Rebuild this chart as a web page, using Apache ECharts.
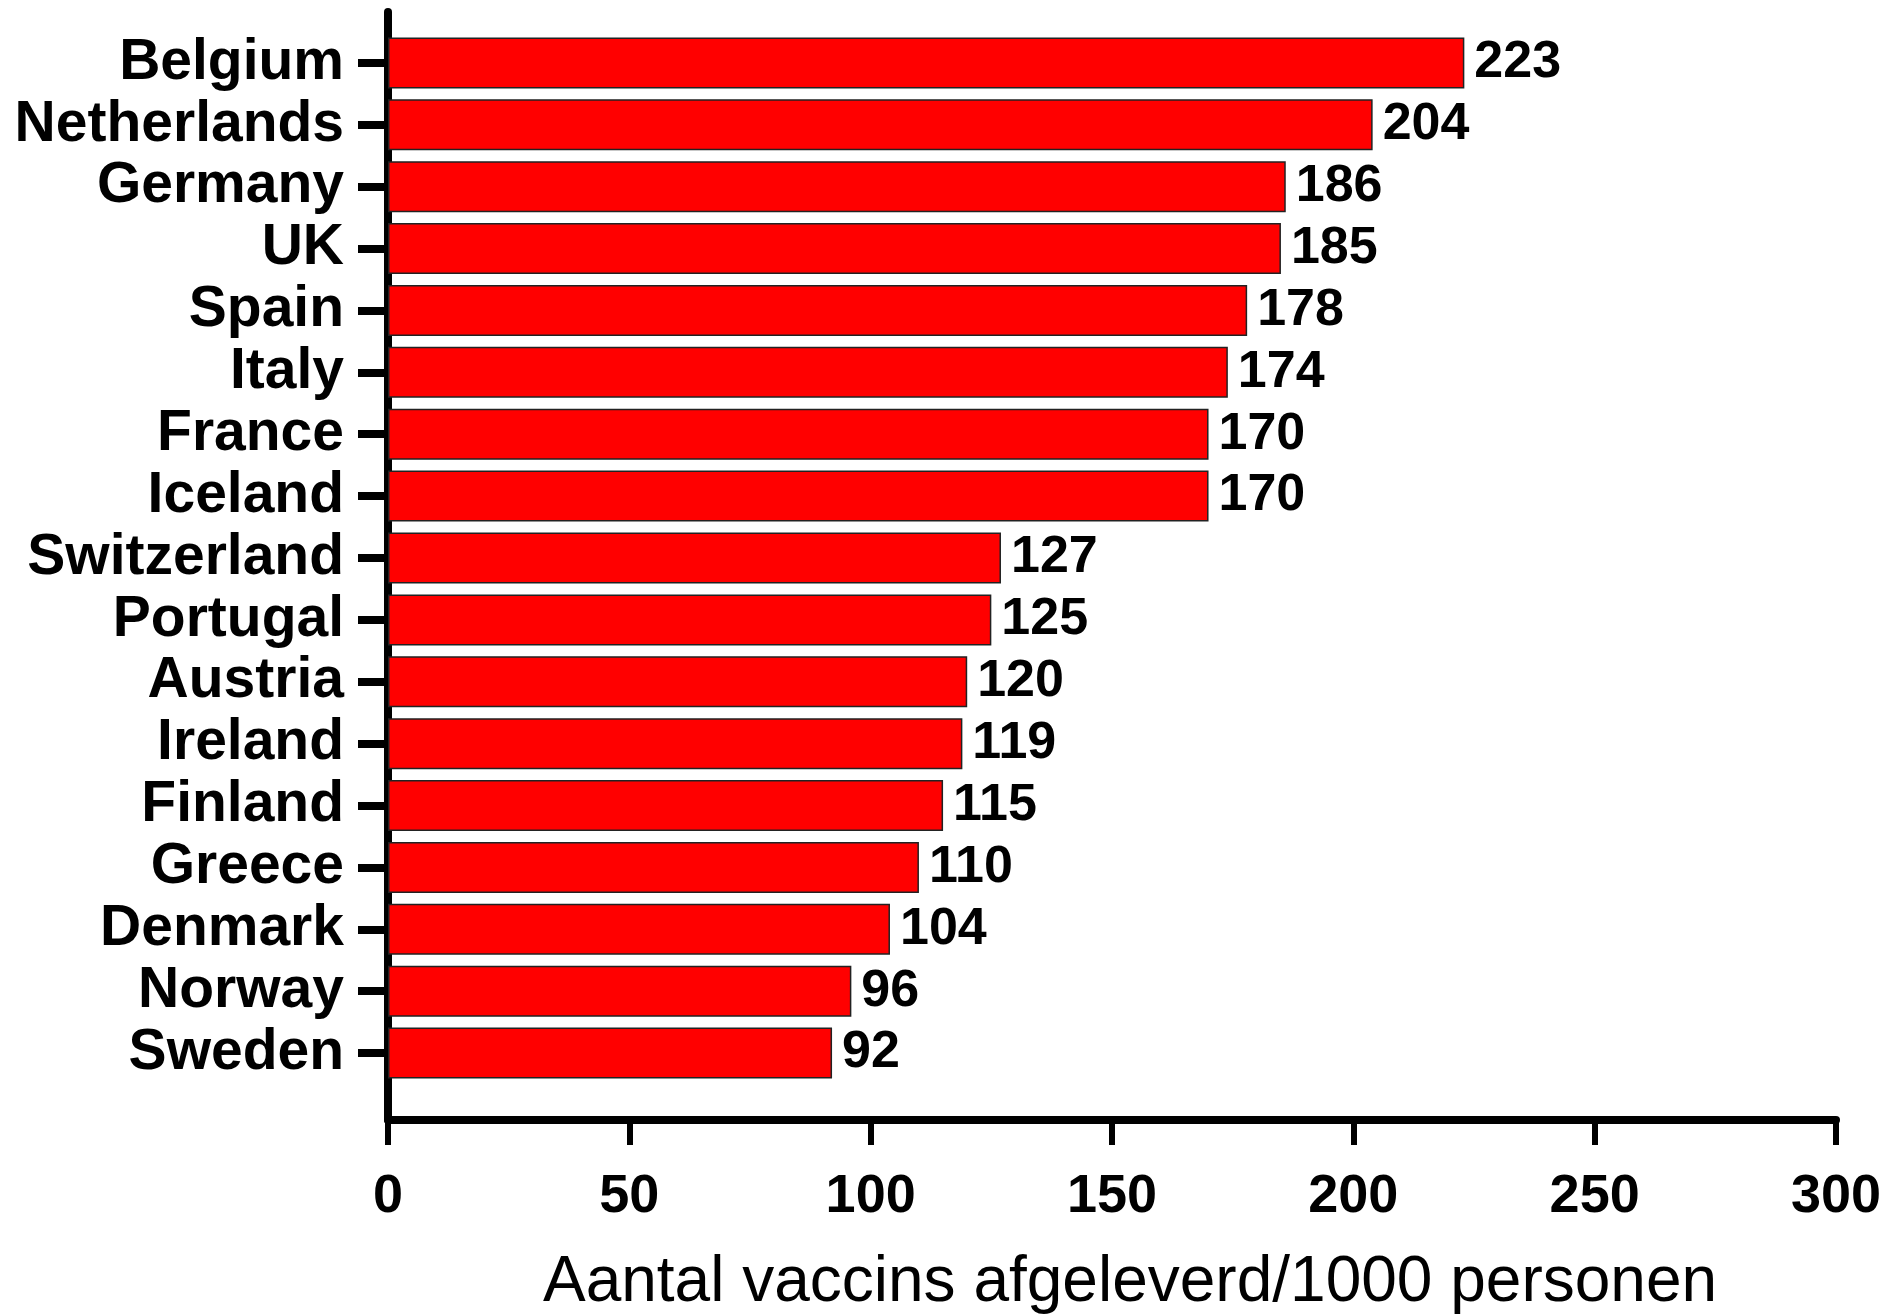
<!DOCTYPE html>
<html>
<head>
<meta charset="utf-8">
<script src="https://cdn.jsdelivr.net/npm/echarts@6/dist/echarts.min.js"></script>
<style>
html,body{margin:0;padding:0;background:#ffffff;}
#chart{width:1902px;height:1315px;}
</style>
</head>
<body>
<div id="chart"></div>
<script>
const countries = ['Belgium','Netherlands','Germany','UK','Spain','Italy','France','Iceland','Switzerland','Portugal','Austria','Ireland','Finland','Greece','Denmark','Norway','Sweden'];
const values = [223,204,186,185,178,174,170,170,127,125,120,119,115,110,104,96,92];
const xTicks = [0,50,100,150,200,250,300];
const axisTitle = 'Aantal vaccins afgeleverd/1000 personen';

const FONT = 'Arial, "Liberation Sans", Helvetica, sans-serif';
const chart = echarts.init(document.getElementById('chart'), null, {renderer:'canvas'});
chart.setOption({
  backgroundColor:'#ffffff',
  animation:false,
  grid:[
    {left:388, right:66, top:32, bottom:231, containLabel:false, outerBoundsMode:'none'},
    {left:388, right:66, top:12, bottom:195, containLabel:false, outerBoundsMode:'none'}
  ],
  xAxis:[
    {gridIndex:0, type:'value', min:xTicks[0], max:xTicks[xTicks.length-1], interval:50, show:false},
    {gridIndex:1, type:'value', min:xTicks[0], max:xTicks[xTicks.length-1], interval:50,
     axisLine:{show:true, onZero:false, lineStyle:{color:'#000', width:8}},
     axisTick:{show:true, inside:false, length:25, lineStyle:{color:'#000', width:6}},
     splitLine:{show:false},
     axisLabel:{margin:50, color:'#000', fontSize:54, fontWeight:'bold', fontFamily:FONT},
     name:axisTitle, nameLocation:'middle', nameGap:131,
     nameTextStyle:{color:'#000', fontSize:64, fontFamily:FONT, padding:[0,0,0,36]}
    }
  ],
  yAxis:[
    {gridIndex:0, type:'category', data:countries, inverse:true,
     axisLine:{show:false},
     axisTick:{show:true, alignWithLabel:true, interval:0, length:30, lineStyle:{color:'#000', width:8}},
     axisLabel:{interval:0, margin:44, color:'#000', fontSize:57, fontWeight:'bold', fontFamily:FONT},
     splitLine:{show:false}
    },
    {gridIndex:1, type:'value', min:0, max:1,
     axisLine:{show:true, onZero:false, lineStyle:{color:'#000', width:8}},
     axisTick:{show:false}, axisLabel:{show:false}, splitLine:{show:false}
    }
  ],
  series:[{
    type:'bar', xAxisIndex:0, yAxisIndex:0,
    data:values,
    barWidth:51,
    itemStyle:{color:'#ff0000', borderColor:'#222', borderWidth:1.5},
    label:{show:true, position:'right', distance:10, color:'#000', fontSize:52, fontWeight:'bold', fontFamily:FONT},
    z:1
  }]
});
</script>
</body>
</html>
